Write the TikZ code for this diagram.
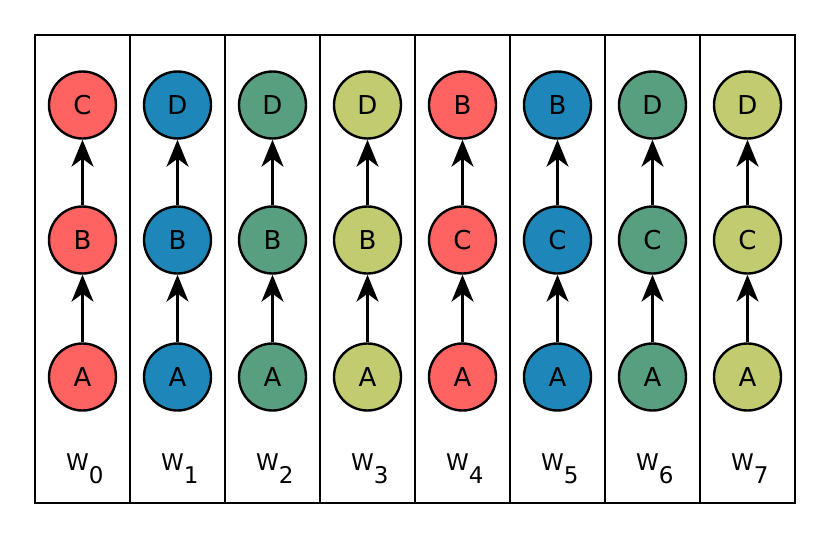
\documentclass[tikz,border=0pt]{standalone}
\usepackage{fontspec}
\setmainfont{DejaVu Sans}
\usetikzlibrary{arrows.meta}
\definecolor{cred}{RGB}{255,99,97}
\definecolor{cblue}{RGB}{30,134,184}
\definecolor{cgreen}{RGB}{88,159,128}
\definecolor{cyel}{RGB}{194,203,111}
\tikzset{
  ball/.style={circle, draw=black, line width=2.4pt, minimum size=67pt, inner sep=0pt, font=\fontsize{26}{26}\selectfont},
  link/.style={line width=2.2pt, -{Stealth[length=27pt, width=22pt, inset=8pt]}},
  frame/.style={line width=2.8pt},
  wlab/.style={font=\fontsize{23}{23}\selectfont, inner sep=0pt, anchor=base west}
}
\begin{document}
\begin{tikzpicture}[x=1pt, y=-1pt]
\useasboundingbox (0,0) rectangle (830,539);
\fill[white] (0,0) rectangle (830,539);
\draw[frame] (35,35) rectangle (795,503);
\foreach \i in {1,...,7} {
  \draw[frame] ({35+95*\i},35) -- ({35+95*\i},503);
}
\foreach \i/\c/\top/\mid in {0/cred/C/B, 1/cblue/D/B, 2/cgreen/D/B, 3/cyel/D/B, 4/cred/B/C, 5/cblue/B/C, 6/cgreen/D/C, 7/cyel/D/C} {
  \node[ball, fill=\c] (a\i) at ({82.5+95*\i},377) {A};
  \node[ball, fill=\c] (m\i) at ({82.5+95*\i},240) {\mid};
  \node[ball, fill=\c] (t\i) at ({82.5+95*\i},105) {\top};
  \draw[link] (a\i) -- (m\i);
  \draw[link] (m\i) -- (t\i);
  \node[wlab] (w\i) at ({66+95*\i},470) {W\raisebox{-13pt}{\i}};
}
\end{tikzpicture}
\end{document}
